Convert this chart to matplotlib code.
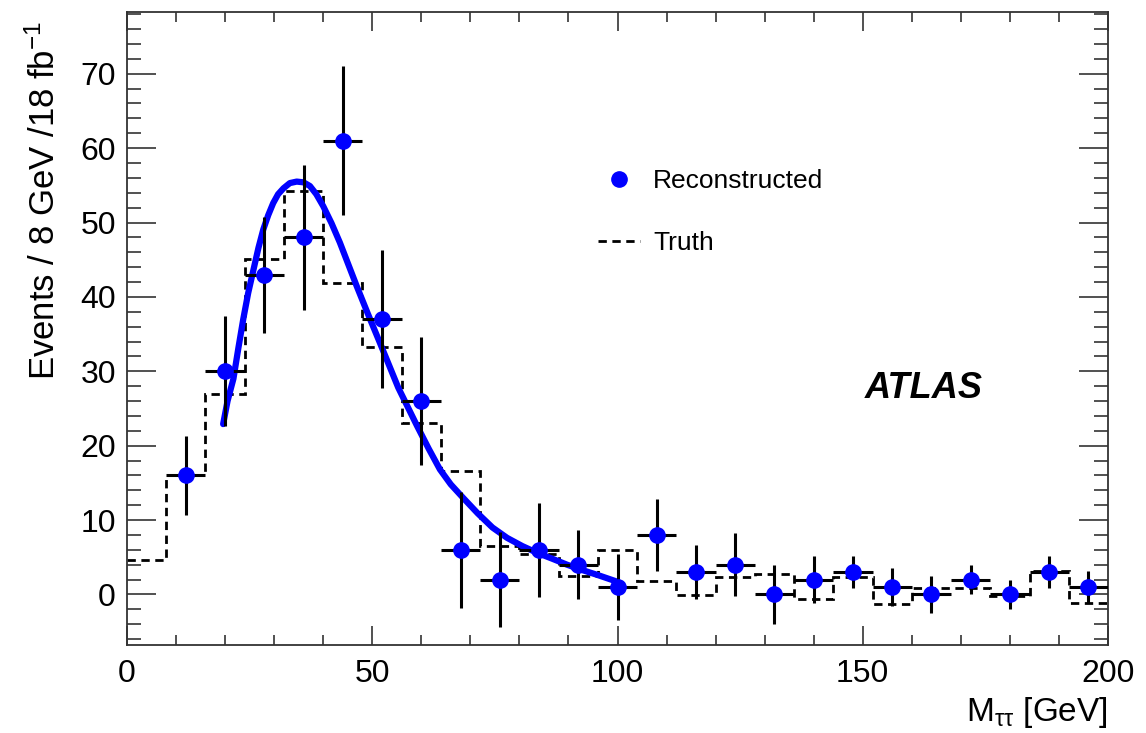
import numpy as np
import matplotlib
matplotlib.use("Agg")
import matplotlib.pyplot as plt
from matplotlib.ticker import MultipleLocator
from matplotlib.lines import Line2D

plt.rcParams['font.family'] = ['Liberation Sans', 'DejaVu Sans']
plt.rcParams['mathtext.fontset'] = 'custom'
plt.rcParams['mathtext.rm'] = 'Liberation Sans'
plt.rcParams['mathtext.it'] = 'Liberation Sans'

# Reconstructed points (bin centres, counts, errors)
reco_x = [12, 20, 28, 36, 44, 52, 60, 68, 76, 84, 92, 100,
          108, 116, 124, 132, 140, 148, 156, 164, 172, 180, 188, 196]
reco_y = [16, 30, 43, 48, 61, 37, 26, 6, 2, 6, 4, 1,
          8, 3, 4, 0, 2, 3, 1, 0, 2, 0, 3, 1]
reco_err = [5.3, 7.4, 7.8, 9.7, 10.0, 9.3, 8.6, 7.8, 6.4, 6.3, 4.6, 4.5,
            4.8, 3.6, 4.2, 4.0, 3.2, 2.2, 2.5, 2.5, 2.0, 1.9, 2.2, 2.2]

# Truth histogram (8 GeV bins from 0 to 200)
truth_edges = list(range(0, 201, 8))
truth_vals = [4.6, 16.1, 26.9, 45.1, 54.3, 41.9, 33.2, 23.0, 16.6, 6.5, 5.5, 2.5,
              6.0, 1.8, -0.1, 2.4, 2.7, -0.6, 2.4, -1.3, 0.8, 0.8, -0.2, 3.1, -1.2]

# Fit curve
fit_x = [19.6, 20.5, 21.7, 22.7, 23.7, 24.7, 25.8, 26.8, 27.8, 28.8, 29.8, 30.8,
         31.9, 33.2, 34.6, 36.0, 37.3, 38.6, 40.0, 41.7, 43.4, 45.1, 46.8, 49.0,
         51.7, 55.3, 59.1, 61.5, 63.8, 66.0, 68.5, 71.5, 74.5, 77.5, 80.6, 83.6,
         86.7, 89.7, 92.7, 96.0, 99.1, 100.0]
fit_y = [22.9, 26.0, 29.0, 33.1, 37.0, 40.5, 43.7, 46.6, 49.1, 51.0, 52.6, 53.8,
         54.6, 55.3, 55.5, 55.4, 54.9, 53.8, 52.2, 49.9, 47.3, 44.4, 41.5, 37.9,
         33.6, 27.8, 22.7, 19.6, 16.8, 14.8, 13.0, 10.9, 9.0, 7.6, 6.5, 5.6,
         4.8, 4.0, 3.3, 2.6, 1.9, 1.7]

fig = plt.figure(figsize=(11.46, 7.33), dpi=100)
ax = fig.add_axes([127/1146, 1 - 645/733, 981/1146, 633/733])

ax.stairs(truth_vals, truth_edges, baseline=None, color='black',
          linestyle=(0, (3, 2)), linewidth=2.0)
ax.plot(fit_x, fit_y, color='blue', linewidth=4.5, solid_capstyle='round',
        solid_joinstyle='round', zorder=4)
ax.errorbar(reco_x, reco_y, xerr=4, yerr=reco_err, fmt='o', color='blue',
            markersize=11, ecolor='black', elinewidth=2.2, capsize=0, zorder=5)

ax.set_xlim(0, 200)
ax.set_ylim(-6.8, 78.3)
ax.xaxis.set_major_locator(MultipleLocator(50))
ax.xaxis.set_minor_locator(MultipleLocator(10))
ax.yaxis.set_major_locator(MultipleLocator(10))
ax.yaxis.set_minor_locator(MultipleLocator(2))
ax.tick_params(axis='both', which='both', direction='in', top=True, right=True,
               labelsize=23, width=1.2, color='#333333')
ax.tick_params(axis='x', which='major', length=14, pad=10)
ax.tick_params(axis='x', which='minor', length=7)
ax.tick_params(axis='y', which='major', length=21, pad=8)
ax.tick_params(axis='y', which='minor', length=10)
for s in ax.spines.values():
    s.set_linewidth(1.3)
    s.set_color('#333333')

ax.set_ylabel(r'Events / 8 GeV /18 fb$^{-1}$', fontsize=25)
ax.yaxis.set_label_coords(-0.0836, 0.703)
ax.yaxis.label.set_verticalalignment('center')
ax.set_xlabel(r'M$_{\tau\tau}$ [GeV]', fontsize=24)
ax.xaxis.set_label_coords(1.0, -0.106)
ax.xaxis.label.set_horizontalalignment('right')
ax.xaxis.label.set_verticalalignment('center')

ax.text(0.752, 0.405, 'ATLAS', transform=ax.transAxes, fontsize=26,
        fontweight='bold', fontstyle='italic', ha='left', va='center')

reco_handle = Line2D([], [], marker='o', color='blue', linestyle='none', markersize=11)
truth_handle = Line2D([], [], color='black', linestyle=(0, (3, 2)), linewidth=2.0)
ax.legend([reco_handle, truth_handle], ['Reconstructed', 'Truth'],
          loc='upper left', bbox_to_anchor=(0.48, 0.752), frameon=False,
          fontsize=19, handlelength=1.6, handletextpad=0.5, labelspacing=1.45,
          borderpad=0, borderaxespad=0)

fig.savefig('out.png', dpi=100)
